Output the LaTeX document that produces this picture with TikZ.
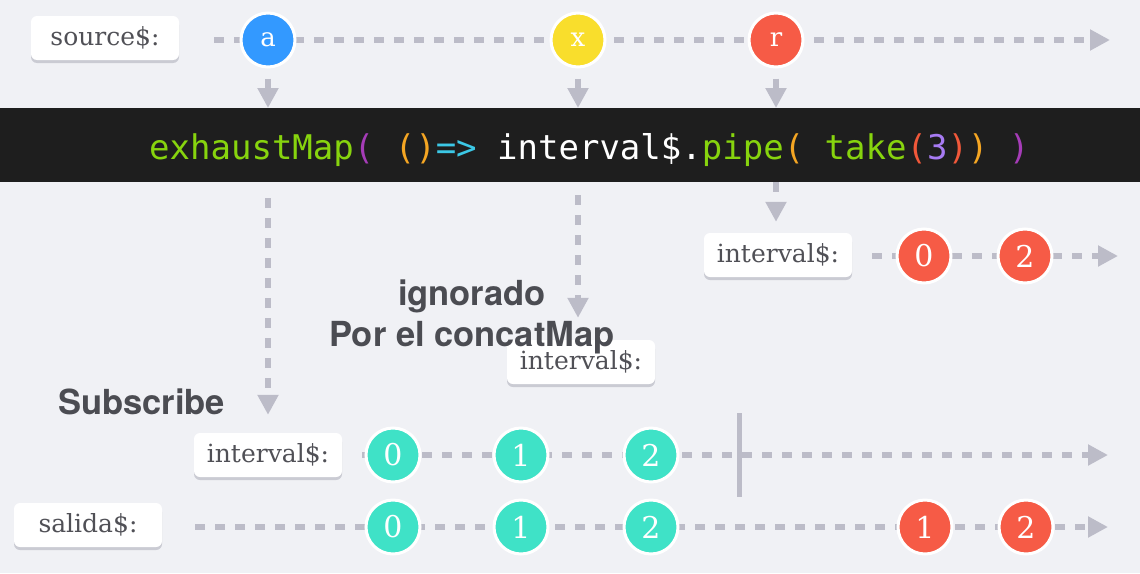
\documentclass[tikz,border=0pt]{standalone}
\usepackage{fontspec}
\setmainfont{DejaVu Serif}
\newfontfamily\codefont{DejaVu Sans Mono}
\newfontfamily\headfont{TeX Gyre Heros}
\usetikzlibrary{arrows.meta,shadows}

\definecolor{bgcol}{HTML}{F0F1F5}
\definecolor{linecol}{HTML}{BCBCC8}
\definecolor{shadowcol}{HTML}{CACBD3}
\definecolor{lbltext}{HTML}{505056}
\definecolor{notetext}{HTML}{4B4C52}
\definecolor{barcol}{HTML}{1E1E1E}
\definecolor{mblue}{HTML}{3399FF}
\definecolor{myellow}{HTML}{F9DE2C}
\definecolor{mred}{HTML}{F65B46}
\definecolor{mteal}{HTML}{3FE2C7}
\definecolor{cgreen}{HTML}{87D40E}
\definecolor{cpurple}{HTML}{A63CB8}
\definecolor{corange}{HTML}{F5A623}
\definecolor{ccyan}{HTML}{3CC8E6}
\definecolor{cred}{HTML}{F0583A}
\definecolor{cviolet}{HTML}{A77BF3}

\tikzset{
  streamlbl/.style={rounded corners=6pt, fill=white, minimum width=148pt, minimum height=44pt,
    inner sep=0pt, text=lbltext, font=\fontsize{25}{28}\selectfont,
    drop shadow={shadow xshift=0pt, shadow yshift=-3pt, fill=shadowcol, opacity=1}},
  marble/.style={circle, draw=white, line width=3pt, minimum size=54pt, inner sep=0pt,
    text=white, font=\fontsize{30}{32}\selectfont},
  timeline/.style={draw=linecol, line width=6pt, dash pattern=on 10pt off 10pt,
    -{Triangle[length=20pt,width=20pt]}},
  note/.style={text=notetext, font=\headfont\bfseries\fontsize{34.5}{40}\selectfont, inner sep=0pt},
}

\begin{document}
\begin{tikzpicture}[x=1pt,y=-1pt]
    \useasboundingbox (0,0) rectangle (1140,573);
    \fill[bgcol] (0,0) rectangle (1140,573);

    % labels of the streams
    \node[streamlbl] (src) at (105,38) {source\$:};
    \node[streamlbl] (ivt) at (778,255) {interval\$:};
    \node[streamlbl] (ivm) at (581,362) {interval\$:};
    \node[streamlbl] (ivb) at (268,455) {interval\$:};
    \node[streamlbl] (sal) at (88,525) {salida\$:};

    % time lines
    \coordinate (srcE) at (1110,40);
    \coordinate (ivtE) at (1118,256);
    \coordinate (ivbE) at (1108,455);
    \coordinate (salE) at (1108,527);
    \draw[timeline, shorten <=35pt] (src.east |- srcE) -- (srcE);
    \draw[timeline, shorten <=20pt] (ivt.east |- ivtE) -- (ivtE);
    \draw[timeline, shorten <=20pt] (ivb.east) -- (ivbE);
    \draw[timeline, shorten <=33pt] (sal.east |- salE) -- (salE);

    % complete mark
    \coordinate (doneT) at (739,413);
    \coordinate (doneB) at (739,497);
    \draw[linecol, line width=5pt] (doneT) -- (doneB);

    % source marbles
    \node[marble, fill=mblue, font=\fontsize{26}{28}\selectfont] (a) at (268,40) {a};
    \node[marble, fill=myellow, font=\fontsize{26}{28}\selectfont] (x) at (578,40) {x};
    \node[marble, fill=mred, font=\fontsize{26}{28}\selectfont] (r) at (776,40) {r};

    % inner and output marbles
    \node[marble, fill=mred] (t0) at (924,256) {0};
    \node[marble, fill=mred] (t2) at (1025,256) {2};
    \node[marble, fill=mteal] (i0) at (393,455) {0};
    \node[marble, fill=mteal] (i1) at (521,455) {1};
    \node[marble, fill=mteal] (i2) at (651,455) {2};
    \node[marble, fill=mteal] (s0) at (393,527) {0};
    \node[marble, fill=mteal] (s1) at (521,527) {1};
    \node[marble, fill=mteal] (s2) at (651,527) {2};
    \node[marble, fill=mred] (s3) at (925,527) {1};
    \node[marble, fill=mred] (s4) at (1026,527) {2};

    % operator bar
    \node[fill=barcol, minimum width=1140pt, minimum height=74pt, inner sep=0pt, anchor=north west] (bar) at (0,108) {};
    \node[anchor=base west, inner sep=0pt, text=white, font=\codefont\fontsize{34}{40}\selectfont] (code) at (149,159)
      {\textcolor{cgreen}{exhaustMap}\textcolor{cpurple}{(}~\textcolor{corange}{()}\textcolor{ccyan}{=>}~interval\$.\textcolor{cgreen}{pipe}\textcolor{corange}{(}~\textcolor{cgreen}{take}\textcolor{cred}{(}\textcolor{cviolet}{3}\textcolor{cred}{)}\textcolor{corange}{)}~\textcolor{cpurple}{)}};

    % into the operator
    \draw[timeline, shorten <=10pt] (a.south) -- (a |- bar.north);
    \draw[timeline, shorten <=10pt] (x.south) -- (x |- bar.north);
    \draw[timeline, shorten <=10pt] (r.south) -- (r |- bar.north);

    % out of the operator
    \draw[timeline, shorten <=16pt, shorten >=18pt] (a |- bar.south) -- (a |- ivb.north);
    \draw[timeline, shorten <=13pt, shorten >=22pt] (x |- bar.south) -- (x |- ivm.north);
    \draw[timeline, shorten >=11pt] (r |- bar.south) -- (r |- ivt.north);

    % notes
    \node[note, anchor=base] (ign) at (472,305) {ignorado};
    \node[note, anchor=base] (por) at (472,346) {Por el concatMap};
    \node[note, anchor=base west] (sub) at (58,414) {Subscribe};
\end{tikzpicture}
\end{document}
